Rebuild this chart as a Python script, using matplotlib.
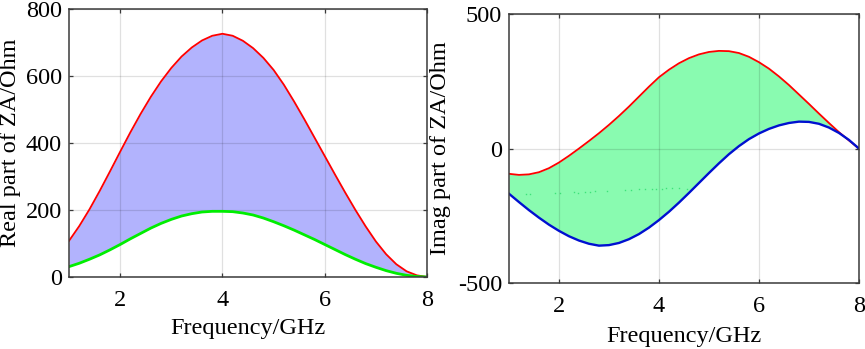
import numpy as np
import matplotlib
matplotlib.use("Agg")
import matplotlib.pyplot as plt

# Frequency grid (GHz) shared by both panels
freq = [1.0, 1.2, 1.4, 1.6, 1.8, 2.0, 2.2, 2.4, 2.6, 2.8, 3.0, 3.2, 3.4, 3.6, 3.8,
        4.0, 4.2, 4.4, 4.6, 4.8, 5.0, 5.2, 5.4, 5.6, 5.8, 6.0, 6.2, 6.4, 6.6, 6.8,
        7.0, 7.2, 7.4, 7.6, 7.8, 8.0]

# Left panel: real part of ZA (Ohm)
real_upper = [108, 152, 202, 257, 315, 374, 432, 487, 538, 584, 624, 658, 685, 706, 720,
              726, 720, 705, 683, 654, 618, 574, 524, 471, 416, 361, 306, 252, 200, 151,
              106, 68, 38, 17, 5, 0]
real_lower = [31, 41, 53, 66, 81, 97, 114, 130, 146, 160, 172, 182, 189, 194, 196,
              196, 195, 191, 185, 176, 165, 153, 140, 126, 112, 97, 82, 67, 53, 40,
              29, 19, 11, 5, 1.5, 0]

# Right panel: imaginary part of ZA (Ohm)
imag_upper = [-94, -98, -96, -88, -73, -52, -27, 0, 28, 57, 88, 121, 156, 193, 230,
              265, 293, 317, 336, 350, 359, 363, 362, 355, 341, 321, 297, 268, 236, 201,
              166, 130, 95, 61, 30, 0]
imag_lower = [-168, -199, -229, -257, -283, -306, -326, -342, -354, -361, -359, -351, -337, -318, -294,
              -266, -235, -201, -165, -128, -91, -55, -21, 9, 35, 56, 73, 86, 95, 100,
              99, 92, 78, 58, 32, 0]

# faint dotted rendering artefact inside the green band
artifact_f = [1.34, 1.42, 1.93, 2.02, 2.30, 2.38, 2.53, 2.62, 2.73, 2.97, 3.33, 3.45,
              3.60, 3.72, 3.86, 3.95, 4.06, 4.15, 4.26, 4.40, 4.57]
artifact_v = [-169, -168, -167, -166, -163, -164, -161, -160, -158, -157, -155, -154,
              -152, -152, -151, -150, -151, -148, -145, -148, -150]

plt.rcParams['font.family'] = ['Liberation Serif', 'DejaVu Serif']
plt.rcParams['axes.unicode_minus'] = False

fig = plt.figure(figsize=(8.65, 3.49), dpi=100)
ax1 = fig.add_axes([0.0798, 0.2063, 0.4139, 0.768])
ax2 = fig.add_axes([0.5884, 0.189, 0.4046, 0.7708])

FS = 17.5
edge = '#3a3a3a'
for ax in (ax1, ax2):
    ax.grid(True, color='black', alpha=0.12, linewidth=0.9)
    ax.set_axisbelow(False)
    ax.tick_params(axis='both', direction='in', length=3, width=0.9, color=edge,
                   labelsize=FS, top=True, right=True)
    ax.tick_params(axis='x', pad=9)
    ax.tick_params(axis='y', pad=5)
    for s in ax.spines.values():
        s.set_color(edge)
        s.set_linewidth(1.1)
        s.set_zorder(5)
    ax.set_xlim(1, 8)
    ax.set_xticks([2, 4, 6, 8])
    ax.set_xlabel('Frequency/GHz', fontsize=FS)

ax1.fill_between(freq, real_lower, real_upper, color='#b2b3fd', linewidth=0, zorder=1)
ax1.plot(freq, real_upper, color='#ff0000', linewidth=1.3, zorder=3)
ax1.plot(freq, real_lower, color='#00ee00', linewidth=2.0, zorder=3)
ax1.set_ylim(0, 800)
ax1.set_yticks([0, 200, 400, 600, 800])
ax1.set_ylabel('Real part of ZA/Ohm', fontsize=FS)
ax1.yaxis.set_label_coords(-0.134, 0.5)
ax1.xaxis.set_label_coords(0.5, -0.152)

ax2.fill_between(freq, imag_lower, imag_upper, color='#89fbb0', linewidth=0, zorder=1)
ax2.plot(artifact_f, artifact_v, linestyle='none', marker='s', markersize=1.0,
         color='#3ee27a', markeredgewidth=0, zorder=2)
ax2.plot(freq, imag_upper, color='#ff0000', linewidth=1.3, zorder=3)
ax2.plot(freq, imag_lower, color='#0010d0', linewidth=1.7, zorder=3)
ax2.set_ylim(-500, 500)
ax2.set_yticks([-500, 0, 500])
ax2.set_ylabel('Imag part of ZA/Ohm', fontsize=FS)
ax2.yaxis.set_label_coords(-0.166, 0.5)
ax2.xaxis.set_label_coords(0.5, -0.158)

fig.savefig('out.png', dpi=100)
